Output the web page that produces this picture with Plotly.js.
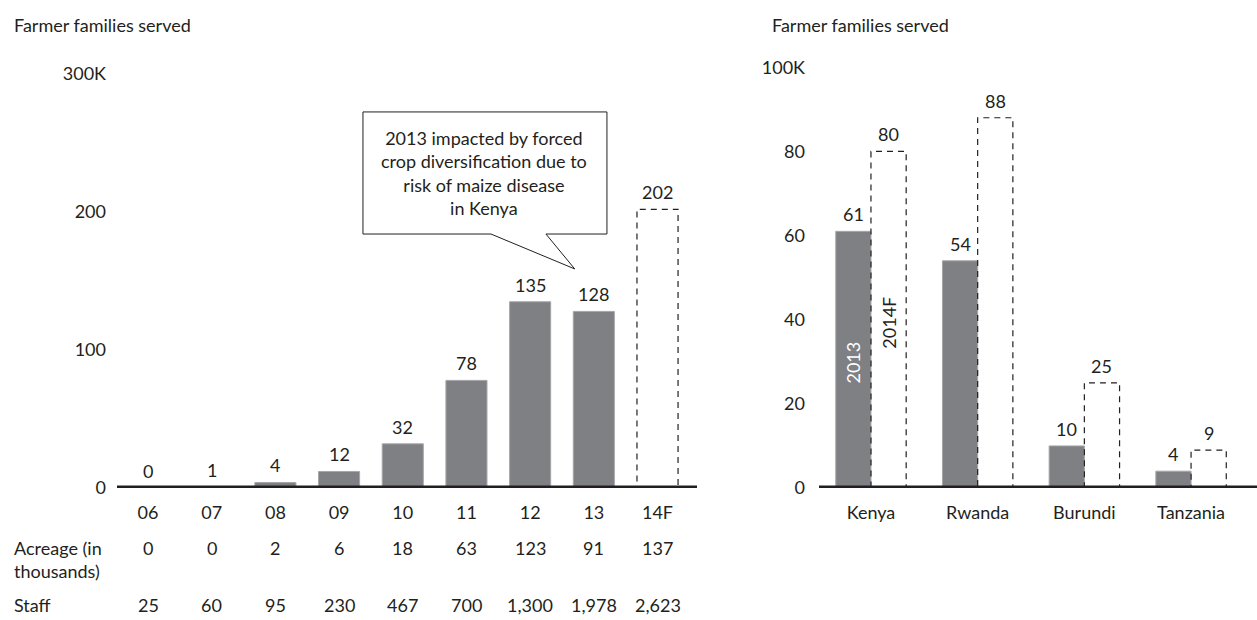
<!DOCTYPE html>
<html>
<head>
<meta charset="utf-8">
<script src="https://cdn.plot.ly/plotly-3.0.1.min.js"></script>
<style>html,body{margin:0;padding:0;background:#fff;}#chart{width:1257px;height:620px;}</style>
</head>
<body>
<div id="chart"></div>
<script>
// ---- Data ----
const years = ['06', '07', '08', '09', '10', '11', '12', '13', '14F'];
const yearsActual = ['06', '07', '08', '09', '10', '11', '12', '13'];
const familiesActual = [0, 1, 4, 12, 32, 78, 135, 128];
const yearsForecast = ['14F'];
const familiesForecast = [202];
const acreage = ['0', '0', '2', '6', '18', '63', '123', '91', '137'];
const staff = ['25', '60', '95', '230', '467', '700', '1,300', '1,978', '2,623'];

const countries = ['Kenya', 'Rwanda', 'Burundi', 'Tanzania'];
const families2013 = [61, 54, 10, 4];
const families2014F = [80, 88, 25, 9];

const leftTickVals = [0, 100, 200, 300];
const leftTickText = ['0', '100', '200', '300K'];
const rightTickVals = [0, 20, 40, 60, 80, 100];
const rightTickText = ['0', '20', '40', '60', '80', '100K'];

const calloutText = '2013 impacted by forced<br>crop diversification due to<br>risk of maize disease<br>in Kenya';

// ---- Style ----
const FONT = 'Lato, "Noto Sans", sans-serif';
const FS = 18;
const INK = '#231f20';
const GREY = '#7f8084';
const GREY_EDGE = '#a6a6a9';
const W = 1257, H = 620, T = 66, B = 132;
const plotH = H - T - B;           // 422
const py = p => (H - B - p) / plotH; // pixel row -> paper y

const leftBarW = 0.645;
const rightBarW = 0.33;

const traces = [
  {type: 'bar', x: yearsActual, y: familiesActual, xaxis: 'x', yaxis: 'y',
   width: leftBarW, marker: {color: GREY, line: {color: GREY_EDGE, width: 1}},
   hoverinfo: 'x+y', showlegend: false},
  {type: 'bar', x: yearsForecast, y: familiesForecast, xaxis: 'x', yaxis: 'y',
   width: leftBarW, marker: {color: 'rgba(255,255,255,0)', line: {width: 0}},
   hoverinfo: 'x+y', showlegend: false},
  {type: 'bar', x: countries, y: families2013, xaxis: 'x2', yaxis: 'y2', name: '2013',
   width: rightBarW, offset: -rightBarW,
   marker: {color: GREY, line: {color: GREY_EDGE, width: 1}}, showlegend: false},
  {type: 'bar', x: countries, y: families2014F, xaxis: 'x2', yaxis: 'y2', name: '2014F',
   width: rightBarW, offset: 0,
   marker: {color: 'rgba(255,255,255,0)', line: {width: 0}}, showlegend: false}
];

const shapes = [];
const annotations = [];
const dash = {color: INK, width: 1.2, dash: '6px,5px'};
const txt = (extra) => Object.assign({showarrow: false, yanchor: 'middle',
  font: {family: FONT, size: FS, color: INK}}, extra);

// Dashed forecast bars (left)
yearsForecast.forEach((yr, k) => {
  const i = years.indexOf(yr);
  shapes.push({type: 'rect', xref: 'x', yref: 'y', x0: i - leftBarW / 2, x1: i + leftBarW / 2,
    y0: 0, y1: familiesForecast[k], line: dash, fillcolor: 'rgba(0,0,0,0)', layer: 'above'});
});
// Dashed forecast bars (right)
countries.forEach((c, i) => {
  shapes.push({type: 'rect', xref: 'x2', yref: 'y2', x0: i, x1: i + rightBarW,
    y0: 0, y1: families2014F[i], line: dash, fillcolor: 'rgba(0,0,0,0)', layer: 'above'});
});

// Baselines
shapes.push({type: 'line', xref: 'x domain', yref: 'y', x0: 0, x1: 1, y0: 0, y1: 0,
  line: {color: INK, width: 5}, layer: 'above'});
shapes.push({type: 'line', xref: 'x2 domain', yref: 'y2', x0: 0, x1: 1, y0: 0, y1: 0,
  line: {color: INK, width: 5}, layer: 'above'});

// Callout bubble
shapes.push({type: 'path', xref: 'x', yref: 'y', layer: 'above',
  path: 'M 3.375 272.6 L 7.206 272.6 L 7.206 184.1 L 6.248 184.1 L 6.70 158.8 L 5.385 184.1 L 3.375 184.1 Z',
  line: {color: INK, width: 1}, fillcolor: 'white'});
annotations.push(txt({xref: 'x', yref: 'y', x: 5.27, y: 228.5, text: calloutText, align: 'center'}));

// Value labels (left)
const labelShift = 4;
yearsActual.forEach((yr, k) => {
  annotations.push(txt({xref: 'x', yref: 'y', x: years.indexOf(yr), y: familiesActual[k],
    text: String(familiesActual[k]), yanchor: 'bottom', yshift: labelShift}));
});
yearsForecast.forEach((yr, k) => {
  annotations.push(txt({xref: 'x', yref: 'y', x: years.indexOf(yr), y: familiesForecast[k],
    text: String(familiesForecast[k]), yanchor: 'bottom', yshift: labelShift}));
});
// Value labels (right)
countries.forEach((c, i) => {
  annotations.push(txt({xref: 'x2', yref: 'y2', x: i - rightBarW / 2, y: families2013[i],
    text: String(families2013[i]), yanchor: 'bottom', yshift: labelShift}));
  annotations.push(txt({xref: 'x2', yref: 'y2', x: i + rightBarW / 2, y: families2014F[i],
    text: String(families2014F[i]), yanchor: 'bottom', yshift: labelShift}));
});
// Series labels inside Kenya bars
annotations.push(txt({xref: 'x2', yref: 'y2', x: -rightBarW / 2, y: 29.9, text: '2013', textangle: -90,
  font: {family: FONT, size: FS, color: '#ffffff'}}));
annotations.push(txt({xref: 'x2', yref: 'y2', x: rightBarW / 2, y: 39.2, text: '2014F', textangle: -90}));

// Axis titles
annotations.push(txt({xref: 'paper', yref: 'paper', x: 12 / W, y: py(25), xanchor: 'left',
  text: 'Farmer families served'}));
annotations.push(txt({xref: 'paper', yref: 'paper', x: 770 / W, y: py(25), xanchor: 'left',
  text: 'Farmer families served'}));

// Table under left chart
annotations.push(txt({xref: 'paper', yref: 'paper', x: 12 / W, y: py(559.5), xanchor: 'left', align: 'left',
  text: 'Acreage (in<br>thousands)'}));
annotations.push(txt({xref: 'paper', yref: 'paper', x: 12 / W, y: py(605), xanchor: 'left', align: 'left',
  text: 'Staff'}));
years.forEach((yr, i) => {
  annotations.push(txt({xref: 'x', yref: 'paper', x: i, y: py(548), xanchor: 'center', text: acreage[i]}));
  annotations.push(txt({xref: 'x', yref: 'paper', x: i, y: py(605), xanchor: 'center', text: staff[i]}));
});

const axisFont = {family: FONT, size: FS, color: INK};
const layout = {
  width: W, height: H,
  margin: {l: 0, r: 0, t: T, b: B, pad: 0},
  paper_bgcolor: '#ffffff', plot_bgcolor: '#ffffff',
  font: {family: FONT, size: FS, color: INK},
  barmode: 'overlay',
  showlegend: false,
  xaxis: {domain: [117 / W, 697 / W], type: 'category', categoryorder: 'array', categoryarray: years,
    range: [-0.487, 8.62], showgrid: false, zeroline: false, showline: false, ticks: '',
    tickfont: axisFont, ticklabelstandoff: 12, fixedrange: true},
  yaxis: {domain: [0, 418 / 422], range: [0, 303], showgrid: false, zeroline: false, showline: false, ticks: '',
    tickvals: leftTickVals, ticktext: leftTickText, tickfont: axisFont, ticklabelstandoff: 10, fixedrange: true},
  xaxis2: {domain: [819 / W, 1], type: 'category', categoryorder: 'array', categoryarray: countries,
    range: [-0.487, 3.618], showgrid: false, zeroline: false, showline: false, ticks: '',
    tickfont: axisFont, ticklabelstandoff: 12, anchor: 'y2', fixedrange: true},
  yaxis2: {domain: [0, 1], range: [0, 100.3], anchor: 'x2', showgrid: false, zeroline: false, showline: false,
    ticks: '', tickvals: rightTickVals, ticktext: rightTickText, tickfont: axisFont, ticklabelstandoff: 13,
    fixedrange: true},
  shapes: shapes,
  annotations: annotations
};

Plotly.newPlot('chart', traces, layout, {displayModeBar: false, staticPlot: true});
</script>
</body>
</html>
